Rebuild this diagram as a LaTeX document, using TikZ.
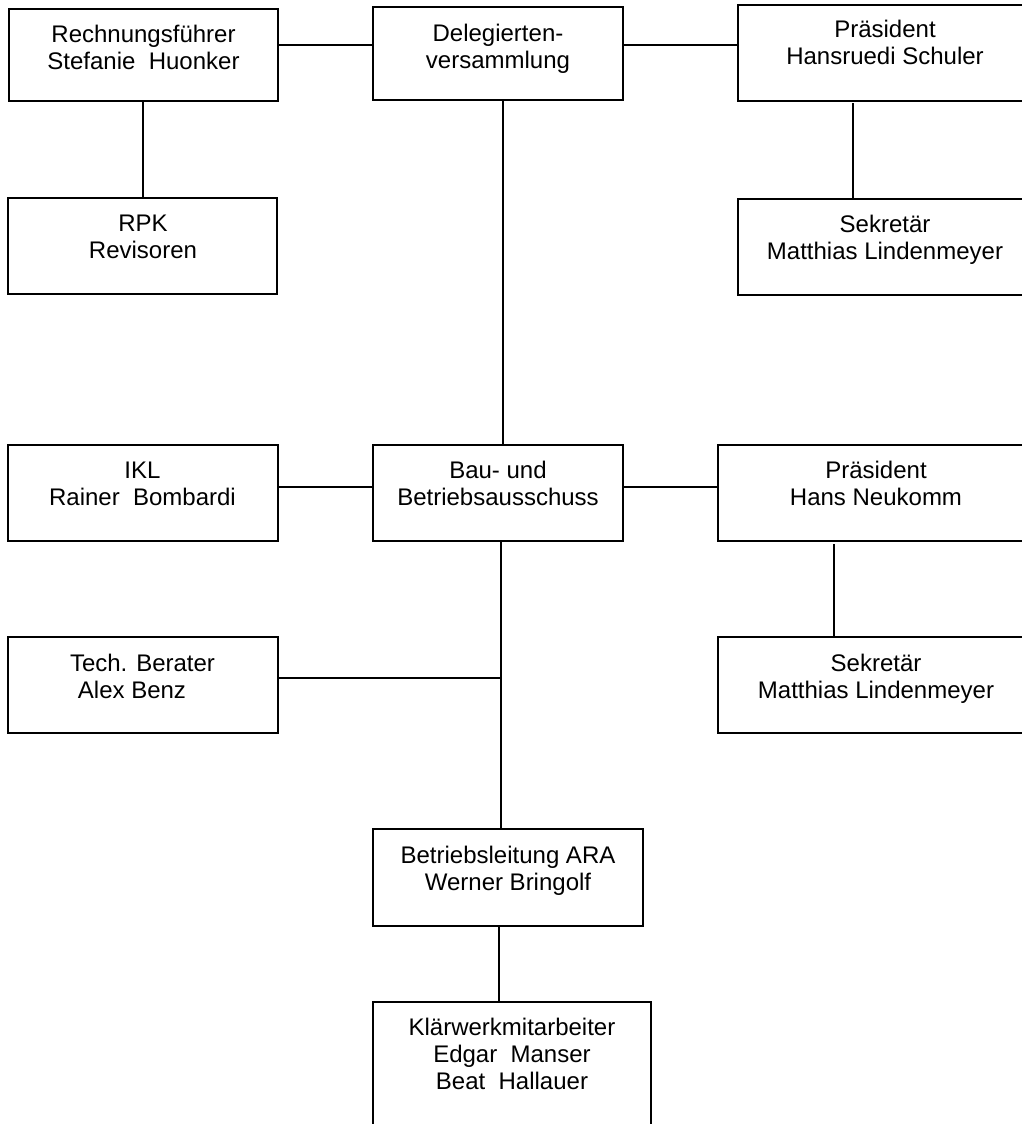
\documentclass[tikz,border=0pt]{standalone}
\usepackage{fontspec}
\setmainfont{Liberation Sans}
\begin{document}
\begin{tikzpicture}[x=1pt,y=-1pt,
  box/.style={draw=black,line width=1.8pt,inner sep=0pt,outer sep=0pt},
  txt/.style={inner sep=0pt,outer sep=0pt,align=center,anchor=base,font=\fontsize{24}{27}\selectfont},
  conn/.style={draw=black,line width=1.8pt}]
\useasboundingbox (0,0) rectangle (1022,1124);
% boxes
\node[box,minimum width=269pt,minimum height=92pt,anchor=north west] (rf) at (9,9) {};
\node[box,minimum width=269pt,minimum height=96pt,anchor=north west] (rpk) at (8,198) {};
\node[box,minimum width=250pt,minimum height=93pt,anchor=north west] (dv) at (373,7) {};
\node[box,minimum width=302pt,minimum height=96pt,anchor=north west] (ps) at (738,5) {};
\node[box,minimum width=302pt,minimum height=96pt,anchor=north west] (sk1) at (738,199) {};
\node[box,minimum width=270pt,minimum height=96pt,anchor=north west] (ikl) at (8,445) {};
\node[box,minimum width=250pt,minimum height=96pt,anchor=north west] (bau) at (373,445) {};
\node[box,minimum width=322pt,minimum height=96pt,anchor=north west] (pn) at (718,445) {};
\node[box,minimum width=270pt,minimum height=96pt,anchor=north west] (tech) at (8,637) {};
\node[box,minimum width=322pt,minimum height=96pt,anchor=north west] (sk2) at (718,637) {};
\node[box,minimum width=270pt,minimum height=97pt,anchor=north west] (bl) at (373,829) {};
\node[box,minimum width=278pt,minimum height=140pt,anchor=north west] (kw) at (373,1002) {};
% texts (anchor = baseline of the last line)
\node[txt] (rft) at (143.5,69.7) {Rechnungsführer\\Stefanie\ \ Huonker};
\node[txt] (rpkt) at (143,258) {RPK\\Revisoren};
\node[txt] (dvt) at (498,68) {Delegierten-\\versammlung};
\node[txt] (pst) at (885,65) {Präsident\\Hansruedi Schuler};
\node[txt] (sk1t) at (885,259) {Sekretär\\Matthias Lindenmeyer};
\node[txt] (iklt) at (142.5,505) {IKL\\Rainer\ \ Bombardi};
\node[txt] (baut) at (498,505) {Bau- und\\Betriebsausschuss};
\node[txt] (pnt) at (876,505) {Präsident\\Hans Neukomm};
\node[txt] (techt) at (142.5,698) {Tech. Berater\\Alex Benz\hspace*{21pt}};
\node[txt] (sk2t) at (876,698) {Sekretär\\Matthias Lindenmeyer};
\node[txt] (blt) at (508,890) {Betriebsleitung ARA\\Werner Bringolf};
\node[txt] (kwt) at (512,1089) {Klärwerkmitarbeiter\\Edgar\ \ Manser\\Beat\ \ Hallauer};
% connectors
\coordinate (tj) at (501,678);
\draw[conn] (rf.east |- 0,45) -- (dv.west |- 0,45);
\draw[conn] (dv.east |- 0,45) -- (ps.west |- 0,45);
\draw[conn] (rf.south -| 143,0) -- (rpk.north -| 143,0);
\draw[conn] (853,103) -- (sk1.north -| 853,0);
\draw[conn] (dv.south -| 503,0) -- (bau.north -| 503,0);
\draw[conn] (ikl.east |- 0,487) -- (bau.west |- 0,487);
\draw[conn] (bau.east |- 0,487) -- (pn.west |- 0,487);
\draw[conn] (834,544) -- (sk2.north -| 834,0);
\draw[conn] (bau.south -| tj) -- (bl.north -| tj);
\draw[conn] (tech.east |- tj) -- (tj);
\draw[conn] (bl.south -| 499,0) -- (kw.north -| 499,0);
\end{tikzpicture}
\end{document}
